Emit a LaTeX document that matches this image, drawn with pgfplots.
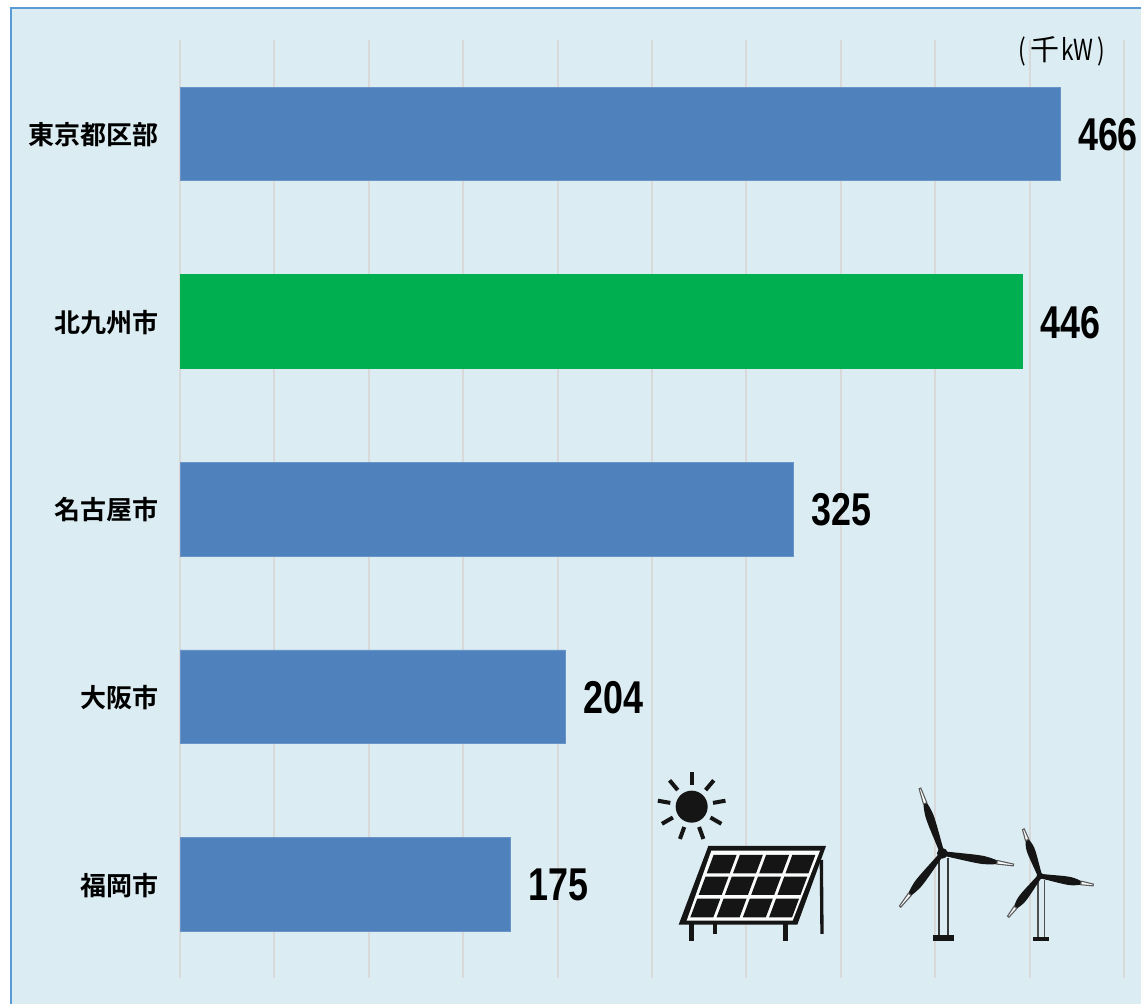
\documentclass[border=0pt]{standalone}
\usepackage{fontspec}
\usepackage{pgfplots}
\pgfplotsset{compat=1.18}
\setmainfont{Liberation Sans}
\newfontfamily\cjkm{Noto Sans CJK JP Bold}
\newfontfamily\cjkr{Noto Sans CJK JP}
\newfontfamily\cjkn{Noto Sans CJK JP}[FakeStretch=0.78]
\newfontfamily\dgf{Liberation Sans Bold}[FakeStretch=0.78]
\definecolor{panel}{HTML}{DBEDF3}
\definecolor{edge}{HTML}{5B9BD5}
\definecolor{gridc}{HTML}{D9D9D9}
\definecolor{barb}{HTML}{4F81BD}
\definecolor{barg}{HTML}{00B050}
\definecolor{ink}{HTML}{151515}
\newcommand\blade[4]{%hub x, hub y, angle, length (zoom units)
  \begin{scope}[shift={(#1,#2)},rotate=#3,xscale=#4/100,yscale=1.35]
    \fill[ink] (0,-5) .. controls (20,-6) and (45,-10) .. (58,-9) .. controls (66,-8) and (72,-6) .. (77,-4) -- (77,4) .. controls (72,6) and (66,8) .. (58,9) .. controls (45,10) and (20,6) .. (0,5) -- cycle;
    \draw[ink!70,line width=1.1pt,fill=white!85!panel] (77,-4) -- (100,-2) -- (100,2) -- (77,4) -- cycle;
  \end{scope}}
\begin{document}
\begin{tikzpicture}
\useasboundingbox (0,0) rectangle (1141pt,1004pt);
\fill[white] (0,0) rectangle (1141pt,1004pt);
\begin{scope}[x=1pt,y=-1pt,shift={(0pt,1004pt)}]
  \fill[panel] (11,8) rectangle (1141,1004);
  \draw[edge,line width=2pt] (11,1004) -- (11,8) -- (1141,8);
\end{scope}
\begin{axis}[
  at={(180pt,26pt)},anchor=south west,
  scale only axis,width=944pt,height=938pt,
  xmin=0,xmax=500,ymin=-0.5,ymax=4.5,y dir=reverse,
  xtick={0,50,...,500},xticklabels={},
  ytick={0,1,2,3,4},
  yticklabels={東京都区部,北九州市,名古屋市,大阪市,福岡市},
  yticklabel style={font=\fontsize{26pt}{30pt}\cjkm,text=black,inner sep=0pt,xshift=-21pt,yshift=-1pt,anchor=east},
  axis line style={draw=none},
  major tick length=0pt,tick style={draw=none},
  xmajorgrids,
  grid style={gridc,line width=2pt},
  xbar,bar width=93.5pt,bar shift=0pt,
  nodes near coords,
  nodes near coords style={font=\fontsize{46pt}{50pt}\dgf,text=black,anchor=west,inner sep=0pt,xshift=18pt,yshift=-1pt},
  /pgf/number format/assume math mode=true,
  clip=false,
]
\addplot[fill=barb,draw=barb!85!white,line width=0.5pt] coordinates {(466,0) (325,2) (204,3) (175,4)};
\addplot[fill=barg,draw=barg,line width=0.5pt] coordinates {(446,1)};
\end{axis}
\begin{scope}[x=1pt,y=-1pt,shift={(0pt,1004pt)}]
  \node[font=\fontsize{29pt}{30pt}\cjkn,text=black,inner sep=0pt] at (1062,51) {(\kern4pt{\cjkr 千}\kern2pt kW\kern4pt)};
  % sun and solar panel, in zoom units
  \begin{scope}[shift={(640,760)},scale=1/3]
    \fill[ink] (155,140) circle (48);
    \foreach \a in {90,50,10,-30,-70,-110,-150,170,130}
      \draw[ink,line width=4pt,rotate around={\a:(155,140)}] (220,140) -- (258,140);
    \fill[ink] (205,258) -- (558,258) -- (472,494) -- (116,494) -- cycle;
    \fill[white!88!panel] (214,272) -- (540,272) -- (458,482) -- (140,482) -- cycle;
    \foreach \r/\ya/\yb in {0/285/340,1/350/405,2/416/472}
      \foreach \c in {0,1,2,3} {
        \pgfmathsetmacro\xa{220+\c*78.75-0.373*(\ya-287)}
        \pgfmathsetmacro\xb{\xa+69}
        \pgfmathsetmacro\xc{220+\c*78.75-0.373*(\yb-287)}
        \pgfmathsetmacro\xd{\xc+69}
        \fill[ink] (\xa,\ya) -- (\xb,\ya) -- (\xd,\yb) -- (\xc,\yb) -- cycle;
      }
    \fill[ink] (147,490) rectangle (163,542);
    \fill[ink] (218,490) rectangle (232,522);
    \fill[ink] (429,490) rectangle (445,542);
    \fill[ink] (539,300) -- (549,300) -- (551,522) -- (541,522) -- cycle;
  \end{scope}
  % wind turbines, in zoom units
  \begin{scope}[shift={(880,770)},scale=1/3]
    \draw[ink!85,line width=1.8pt] (178,265) -- (178,497) (205,265) -- (205,497);
    \fill[ink] (160,495) rectangle (223,513);
    \blade{187}{250}{109}{206}
    \blade{187}{250}{-9.3}{216}
    \blade{187}{250}{231.6}{204}
    \fill[ink] (187,250) circle (16);
    \draw[ink!75,line width=1.6pt] (474,330) -- (474,500) (494,330) -- (494,500);
    \fill[ink] (460,500) rectangle (507,513);
    \blade{480}{318}{109.6}{149}
    \blade{480}{318}{-9.6}{162}
    \blade{480}{318}{232}{155}
    \fill[ink] (480,318) circle (10);
  \end{scope}
\end{scope}
\end{tikzpicture}
\end{document}
